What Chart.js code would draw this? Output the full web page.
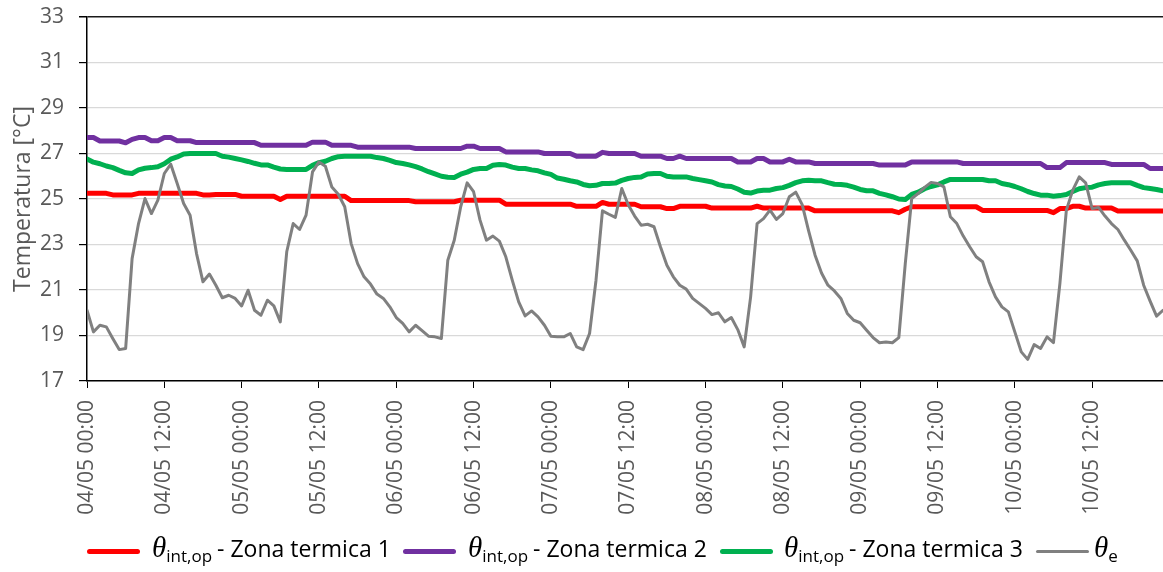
<!DOCTYPE html>
<html>
<head>
<meta charset="utf-8">
<script src="https://cdn.jsdelivr.net/npm/chart.js@4"></script>
<style>
  body { margin: 0; background: #fff; }
  #wrap { position: relative; width: 1163px; height: 572px; }
  .leg { position: absolute; top: 531px; height: 40px; font-family: "Open Sans", sans-serif; font-size: 23px; color: #000; white-space: nowrap; }
  .sw { position: absolute; top: 18px; height: 5px; width: 53px; border-radius: 3px; }
  .txt { position: absolute; top: 1px; line-height: 30px; }
  .txt i { font-family: "Liberation Serif", serif; font-size: 29px; }
  .txt sub { font-size: 17px; vertical-align: -5px; margin-right: 5px; }
</style>
</head>
<body>
<div id="wrap">
  <canvas id="grafico"></canvas>
  <div class="leg" style="left:0">
    <span class="sw" style="left:87px;background:#ff0000"></span>
    <span class="txt" style="left:152px"><i>θ</i><sub>int,op</sub>- Zona termica 1</span>
    <span class="sw" style="left:403px;background:#7030a0"></span>
    <span class="txt" style="left:468px"><i>θ</i><sub>int,op</sub>- Zona termica 2</span>
    <span class="sw" style="left:720px;background:#00b050"></span>
    <span class="txt" style="left:784px"><i>θ</i><sub>int,op</sub>- Zona termica 3</span>
    <span class="sw" style="left:1036px;top:19px;height:3px;background:#808080"></span>
    <span class="txt" style="left:1094px"><i>θ</i><sub>e</sub></span>
  </div>
</div>
<script>
  // ore dal 04/05 00:00 (un valore ogni ora)
  const ore = Array.from({ length: 168 }, (_, i) => i);

  const etichetteX = [
    "04/05 00:00", "04/05 12:00", "05/05 00:00", "05/05 12:00", "06/05 00:00",
    "06/05 12:00", "07/05 00:00", "07/05 12:00", "08/05 00:00", "08/05 12:00",
    "09/05 00:00", "09/05 12:00", "10/05 00:00", "10/05 12:00"
  ];

  const zona1 = [
    25.25, 25.25, 25.25, 25.25, 25.18, 25.18, 25.18, 25.18, 25.25, 25.25,
    25.25, 25.25, 25.25, 25.25, 25.25, 25.25, 25.25, 25.25, 25.18, 25.18,
    25.2, 25.2, 25.2, 25.2, 25.12, 25.12, 25.12, 25.12, 25.12, 25.12,
    24.98, 25.12, 25.12, 25.12, 25.12, 25.12, 25.12, 25.12, 25.12, 25.12,
    25.12, 24.93, 24.93, 24.93, 24.93, 24.93, 24.93, 24.93, 24.93, 24.93,
    24.93, 24.88, 24.88, 24.88, 24.88, 24.88, 24.88, 24.88, 24.95, 24.95,
    24.95, 24.95, 24.95, 24.95, 24.95, 24.77, 24.77, 24.77, 24.77, 24.77,
    24.77, 24.77, 24.77, 24.77, 24.77, 24.77, 24.68, 24.68, 24.68, 24.68,
    24.85, 24.77, 24.77, 24.77, 24.77, 24.77, 24.66, 24.66, 24.66, 24.66,
    24.58, 24.58, 24.68, 24.68, 24.68, 24.68, 24.68, 24.6, 24.6, 24.6,
    24.6, 24.6, 24.6, 24.6, 24.68, 24.6, 24.6, 24.6, 24.6, 24.6,
    24.6, 24.6, 24.6, 24.48, 24.48, 24.48, 24.48, 24.48, 24.48, 24.48,
    24.48, 24.48, 24.48, 24.48, 24.48, 24.48, 24.4, 24.55, 24.66, 24.66,
    24.66, 24.66, 24.66, 24.66, 24.66, 24.66, 24.66, 24.66, 24.66, 24.5,
    24.5, 24.5, 24.5, 24.5, 24.5, 24.5, 24.5, 24.5, 24.5, 24.5,
    24.4, 24.58, 24.58, 24.68, 24.68, 24.6, 24.6, 24.6, 24.6, 24.6,
    24.47, 24.47, 24.47, 24.47, 24.47, 24.47, 24.47, 24.47
  ];

  const zona2 = [
    27.7, 27.7, 27.55, 27.55, 27.55, 27.55, 27.47, 27.62, 27.7, 27.7,
    27.56, 27.56, 27.7, 27.7, 27.56, 27.56, 27.56, 27.48, 27.48, 27.48,
    27.48, 27.48, 27.48, 27.48, 27.48, 27.48, 27.48, 27.36, 27.36, 27.36,
    27.36, 27.36, 27.36, 27.36, 27.36, 27.5, 27.5, 27.5, 27.36, 27.36,
    27.36, 27.36, 27.28, 27.28, 27.28, 27.28, 27.28, 27.28, 27.28, 27.28,
    27.28, 27.22, 27.22, 27.22, 27.22, 27.22, 27.22, 27.22, 27.22, 27.32,
    27.32, 27.22, 27.22, 27.22, 27.22, 27.07, 27.07, 27.07, 27.07, 27.07,
    27.07, 27.0, 27.0, 27.0, 27.0, 27.0, 26.88, 26.88, 26.88, 26.88,
    27.05, 27.0, 27.0, 27.0, 27.0, 27.0, 26.88, 26.88, 26.88, 26.88,
    26.78, 26.78, 26.88, 26.78, 26.78, 26.78, 26.78, 26.78, 26.78, 26.78,
    26.78, 26.63, 26.63, 26.63, 26.78, 26.78, 26.63, 26.63, 26.63, 26.75,
    26.63, 26.63, 26.63, 26.56, 26.56, 26.56, 26.56, 26.56, 26.56, 26.56,
    26.56, 26.56, 26.56, 26.49, 26.49, 26.49, 26.49, 26.49, 26.63, 26.63,
    26.63, 26.63, 26.63, 26.63, 26.63, 26.63, 26.56, 26.56, 26.56, 26.56,
    26.56, 26.56, 26.56, 26.56, 26.56, 26.56, 26.56, 26.56, 26.56, 26.38,
    26.38, 26.38, 26.6, 26.6, 26.6, 26.6, 26.6, 26.6, 26.6, 26.52,
    26.52, 26.52, 26.52, 26.52, 26.52, 26.34, 26.34, 26.34
  ];

  const zona3 = [
    26.76, 26.62, 26.55, 26.45, 26.38, 26.26, 26.15, 26.12, 26.28, 26.35,
    26.38, 26.42, 26.55, 26.75, 26.85, 26.98, 27.0, 27.0, 27.0, 27.0,
    27.0, 26.88, 26.84, 26.78, 26.72, 26.65, 26.57, 26.5, 26.5, 26.4,
    26.32, 26.3, 26.3, 26.3, 26.3, 26.48, 26.6, 26.66, 26.78, 26.86,
    26.88, 26.88, 26.88, 26.88, 26.88, 26.82, 26.78, 26.7, 26.6, 26.56,
    26.5, 26.42, 26.32, 26.2, 26.1, 26.0, 25.96, 25.95, 26.09, 26.18,
    26.3, 26.34, 26.34, 26.48, 26.52, 26.49, 26.4, 26.34, 26.34, 26.28,
    26.24, 26.15, 26.08, 25.92, 25.87, 25.8, 25.75, 25.64, 25.58, 25.6,
    25.68, 25.68, 25.7, 25.82, 25.9, 25.95, 25.97, 26.1, 26.12, 26.12,
    26.0, 25.97, 25.97, 25.97, 25.9, 25.85, 25.8, 25.75, 25.63, 25.57,
    25.55, 25.44, 25.3, 25.26, 25.35, 25.38, 25.39, 25.46, 25.5, 25.6,
    25.72, 25.8, 25.82, 25.8, 25.8, 25.72, 25.65, 25.64, 25.6, 25.52,
    25.42, 25.36, 25.36, 25.25, 25.18, 25.1, 25.0, 24.98, 25.2, 25.3,
    25.45, 25.55, 25.62, 25.75, 25.86, 25.86, 25.86, 25.86, 25.86, 25.86,
    25.8, 25.8, 25.68, 25.63, 25.55, 25.45, 25.33, 25.24, 25.17, 25.17,
    25.12, 25.15, 25.2, 25.33, 25.45, 25.5, 25.52, 25.62, 25.68, 25.71,
    25.71, 25.71, 25.71, 25.6, 25.5, 25.46, 25.42, 25.36
  ];

  const esterna = [
    20.11, 19.16, 19.45, 19.38, 18.87, 18.38, 18.43, 22.38, 23.92, 25.02,
    24.36, 24.95, 26.12, 26.53, 25.68, 24.80, 24.29, 22.60, 21.36, 21.70,
    21.21, 20.66, 20.77, 20.63, 20.30, 20.99, 20.11, 19.89, 20.55, 20.30,
    19.6, 22.68, 23.92, 23.66, 24.29, 26.19, 26.63, 26.44, 25.53, 25.21,
    24.66, 23.04, 22.16, 21.58, 21.26, 20.82, 20.63, 20.26, 19.79, 19.53,
    19.16, 19.45, 19.21, 18.97, 18.94, 18.87, 22.31, 23.19, 24.66, 25.71,
    25.32, 24.07, 23.19, 23.37, 23.15, 22.46, 21.43, 20.48, 19.86, 20.08,
    19.82, 19.45, 18.97, 18.94, 18.94, 19.09, 18.50, 18.38, 19.09, 21.43,
    24.48, 24.33, 24.19, 25.46, 24.75, 24.25, 23.85, 23.89, 23.78, 22.90,
    22.09, 21.58, 21.21, 21.04, 20.63, 20.41, 20.19, 19.92, 20.0, 19.60,
    19.79, 19.26, 18.50, 20.70, 23.92, 24.14, 24.51, 24.10, 24.36, 25.10,
    25.30, 24.75, 23.6, 22.53, 21.75, 21.21, 20.96, 20.63, 19.97, 19.67,
    19.56, 19.23, 18.91, 18.68, 18.71, 18.68, 18.91, 22.16, 25.02, 25.24,
    25.51, 25.73, 25.68, 25.53, 24.22, 23.92, 23.37, 22.90, 22.46, 22.24,
    21.36, 20.70, 20.26, 20.04, 19.16, 18.28, 17.95, 18.60, 18.43, 18.94,
    18.69, 21.29, 24.51, 25.39, 25.97, 25.71, 24.58, 24.63, 24.25, 23.92,
    23.66, 23.19, 22.75, 22.28, 21.21, 20.51, 19.85, 20.11
  ];

  const grigioTesto = '#595959';

  function serie(label, data, colore, spessore, ordine) {
    return {
      label, data,
      borderColor: colore, backgroundColor: colore,
      borderWidth: spessore, pointRadius: 0, tension: 0,
      borderJoinStyle: 'round', borderCapStyle: 'round',
      order: ordine
    };
  }

  function creaGrafico() {
    const ctx = document.getElementById('grafico').getContext('2d');
    new Chart(ctx, {
      type: 'line',
      data: {
        labels: ore,
        datasets: [
          serie('θint,op - Zona termica 1', zona1, '#ff0000', 5, 4),
          serie('θint,op - Zona termica 2', zona2, '#7030a0', 5, 3),
          serie('θint,op - Zona termica 3', zona3, '#00b050', 5, 2),
          serie('θe', esterna, '#808080', 3, 1)
        ]
      },
      options: {
        responsive: true,
        maintainAspectRatio: false,
        animation: false,
        layout: { padding: { top: 17, left: 0, right: 0, bottom: 0 } },
        plugins: { legend: { display: false }, tooltip: { enabled: false } },
        scales: {
          x: {
            type: 'linear', min: 0, max: 167,
            afterBuildTicks: s => { s.ticks = etichetteX.map((_, i) => ({ value: i * 12 })); },
            afterFit: s => { s.height = 191; s.paddingLeft = 0; s.paddingRight = 0; },
            grid: { drawOnChartArea: false, color: '#000', tickLength: 7 },
            border: { color: '#000', width: 1.5 },
            ticks: {
              autoSkip: false, minRotation: 90, maxRotation: 90, padding: 12,
              color: grigioTesto, font: { family: 'Open Sans', size: 21 },
              callback: v => etichetteX[v / 12]
            }
          },
          y: {
            min: 17, max: 33,
            afterFit: s => { s.width = 87; s.paddingTop = 0; s.paddingBottom = 0; },
            grid: {
              color: c => (c.index === 8) ? '#1a1a1a' : '#d9d9d9',
              tickColor: '#000', tickLength: 8, lineWidth: c => (c.index === 8) ? 1.5 : 1.2
            },
            border: { color: '#000', width: 1.5 },
            ticks: {
              stepSize: 2, padding: 15,
              color: grigioTesto, font: { family: 'Open Sans', size: 21 }
            },
            title: {
              display: true, text: 'Temperatura [°C]',
              color: grigioTesto, font: { family: 'Open Sans', size: 23, weight: 'normal' },
              padding: { top: 10, bottom: 0 }
            }
          }
        }
      }
    });
  }

  window.addEventListener('load', creaGrafico);
</script>
</body>
</html>
